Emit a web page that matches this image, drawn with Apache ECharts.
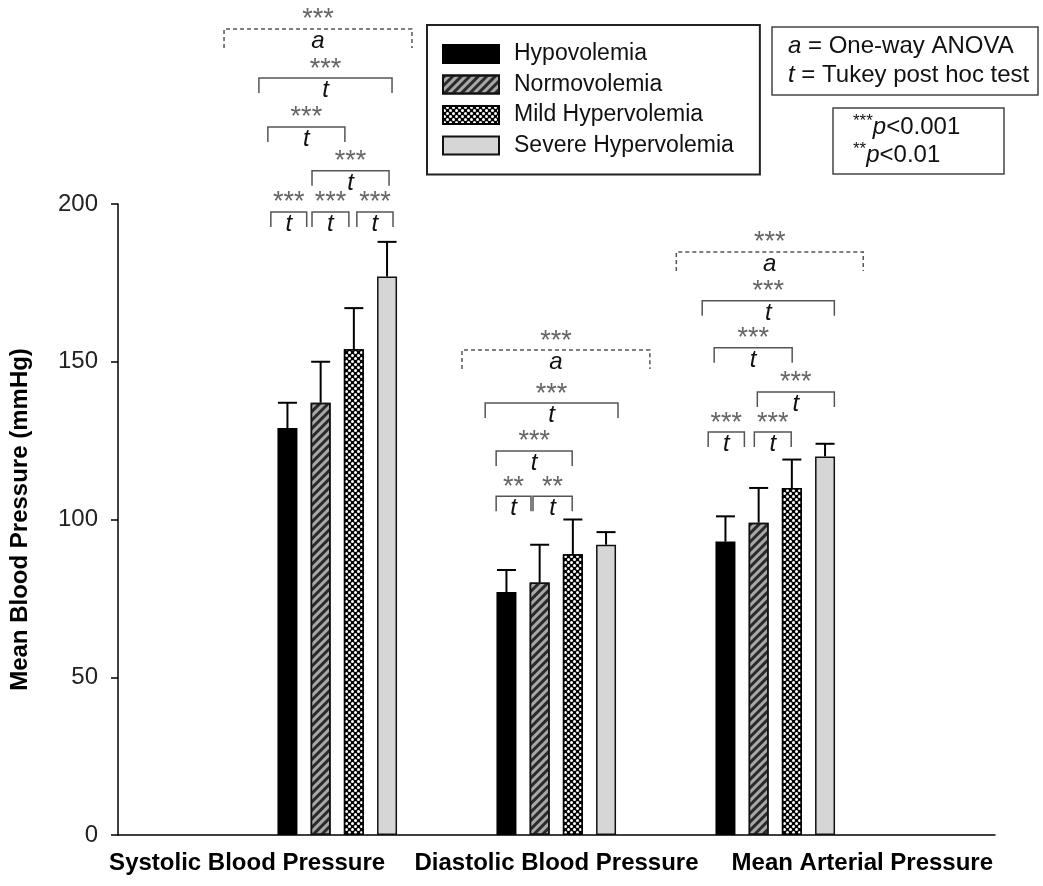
<!DOCTYPE html>
<html>
<head>
<meta charset="utf-8">
<title>Mean Blood Pressure by Volemia Status</title>
<script src="https://cdn.jsdelivr.net/npm/echarts@6/dist/echarts.min.js"></script>
<style>
  html, body { margin: 0; padding: 0; background: #fff; }
  #chart { width: 1043px; height: 886px; }
</style>
</head>
<body>
<div id="chart"></div>
<script>
// Measurement categories and volemia groups
const categories = ['Systolic Blood Pressure', 'Diastolic Blood Pressure', 'Mean Arterial Pressure'];
const groups = ['Hypovolemia', 'Normovolemia', 'Mild Hypervolemia', 'Severe Hypervolemia'];

// Group means (mmHg) per category
const hypoMean = [129, 77, 93];
const normoMean = [137, 80, 99];
const mildMean = [154, 89, 110];
const severeMean = [177, 92, 120];

// Standard deviations (upper error bars)
const hypoSD = [8, 7, 8];
const normoSD = [13, 12, 11];
const mildSD = [13, 11, 9];
const severeSD = [11, 4, 4];

// Value axis ticks
const yMin = 0, yMax = 200, yStep = 50;

// Significance brackets: [category, from, to (in bar slots from group centre), level (mmHg), stars, test]
const brackets = [
  [0, -3.41, 2.25, 255.5, '***', 'a'],
  [0, -2.36, 1.65, 239.9, '***', 't'],
  [0, -2.09, 0.23, 224.4, '***', 't'],
  [0, -0.76, 1.56, 210.5, '***', 't'],
  [0, -2.00, -0.92, 197.5, '***', 't'],
  [0, -0.76, 0.35, 197.5, '***', 't'],
  [0, 0.59, 1.68, 197.5, '***', 't'],
  [1, -2.84, 2.82, 153.7, '***', 'a'],
  [1, -2.14, 1.86, 136.9, '***', 't'],
  [1, -1.81, 0.48, 121.7, '***', 't'],
  [1, -1.81, -0.76, 107.4, '**', 't'],
  [1, -0.70, 0.48, 107.4, '**', 't'],
  [2, -2.98, 2.65, 184.8, '***', 'a'],
  [2, -2.20, 1.78, 169.3, '***', 't'],
  [2, -1.84, 0.51, 154.4, '***', 't'],
  [2, -0.54, 1.78, 140.4, '***', 't'],
  [2, -2.02, -0.93, 127.7, '***', 't'],
  [2, -0.63, 0.48, 127.7, '***', 't']
];

const FONT = '"Liberation Sans", Arial, Helvetica, sans-serif';
const BAR_WIDTH = 20;
const BAR_GAP = 0.66;
const SLOT = BAR_WIDTH * (1 + BAR_GAP);

const means = [hypoMean, normoMean, mildMean, severeMean];
const sds = [hypoSD, normoSD, mildSD, severeSD];

const barStyles = [
  { color: '#000', borderColor: '#000', borderWidth: 1.5 },
  { color: '#a8a8a8', borderColor: '#111', borderWidth: 1.5,
    decal: { symbol: 'rect', symbolSize: 1, dashArrayX: [1, 0], dashArrayY: [2.5, 3], rotation: -Math.PI / 4, color: '#2a2a2a' } },
  { color: '#000', borderColor: '#000', borderWidth: 1.5,
    decal: { symbol: 'circle', symbolSize: 1, dashArrayX: [[3, 2.5], [0, 2.75, 3, 0]], dashArrayY: [3, 0], color: '#fff' } },
  { color: '#d6d6d6', borderColor: '#111', borderWidth: 1.5 }
];

const barSeries = groups.map((name, k) => ({
  name: name,
  type: 'bar',
  xAxisIndex: 1,
  yAxisIndex: 1,
  barWidth: BAR_WIDTH,
  barGap: (BAR_GAP * 100) + '%',
  data: means[k],
  itemStyle: barStyles[k],
  z: 2
}));

// Error bar rows: [category, mean, sd, group index]
const errorRows = [];
groups.forEach((_, k) => {
  categories.forEach((_, g) => errorRows.push([g, means[k][g], sds[k][g], k]));
});

function renderError(params, api) {
  const g = api.value(0), m = api.value(1), sd = api.value(2), k = api.value(3);
  const base = api.coord([g, m]);
  const top = api.coord([g, m + sd]);
  const x = base[0] + (k - 1.5) * SLOT;
  return {
    type: 'group',
    children: [
      { type: 'line', shape: { x1: x, y1: base[1], x2: x, y2: top[1] }, style: { stroke: '#000', lineWidth: 2 } },
      { type: 'line', shape: { x1: x - 9.5, y1: top[1], x2: x + 9.5, y2: top[1] }, style: { stroke: '#000', lineWidth: 2 } }
    ]
  };
}

function renderBracket(params, api) {
  const b = brackets[params.dataIndex];
  const c = api.coord([api.value(0), api.value(1)]);
  const x1 = c[0] + b[1] * SLOT;
  const x2 = c[0] + b[2] * SLOT;
  const y = c[1];
  const anova = b[5] === 'a';
  const leg = anova ? 19 : 15;
  const mid = (x1 + x2) / 2;
  return {
    type: 'group',
    children: [
      { type: 'polyline', shape: { points: [[x1, y + leg], [x1, y], [x2, y], [x2, y + leg]] },
        style: { stroke: '#555', lineWidth: 1.5, fill: null, lineDash: anova ? [4, 3] : null } },
      { type: 'text', style: { text: b[4], x: mid, y: y - 9, align: 'center', verticalAlign: 'middle',
        fill: '#666', font: '27px ' + FONT } },
      { type: 'text', style: { text: b[5], x: mid, y: y + 12, align: 'center', verticalAlign: 'middle',
        fill: '#111', font: 'italic 24px ' + FONT } }
    ]
  };
}

const labelRich = {
  l: { fontSize: 24, fontWeight: 'bold', fontFamily: FONT, color: '#000', padding: [0, 34, 0, 0] },
  c: { fontSize: 24, fontWeight: 'bold', fontFamily: FONT, color: '#000' },
  r: { fontSize: 24, fontWeight: 'bold', fontFamily: FONT, color: '#000', padding: [0, 0, 0, 27] }
};

const chart = echarts.init(document.getElementById('chart'), null, { renderer: 'canvas' });
chart.setOption({
  animation: false,
  backgroundColor: '#fff',
  textStyle: { fontFamily: FONT },
  title: [
    {
      text: '{i|a} = One-way ANOVA\n{i|t} = Tukey post hoc test',
      left: 772, top: 27,
      padding: [5, 9, 5, 16],
      borderColor: '#444', borderWidth: 1.5,
      textStyle: {
        fontSize: 24, fontWeight: 'normal', color: '#111', fontFamily: FONT, lineHeight: 29,
        rich: { i: { fontStyle: 'italic', fontSize: 24, fontFamily: FONT, color: '#111', lineHeight: 29 } }
      }
    },
    {
      text: '{s|***}{i|p}<0.001\n{s|**}{i|p}<0.01',
      left: 833, top: 108,
      padding: [5, 44, 5, 20],
      borderColor: '#444', borderWidth: 1.5,
      textStyle: {
        fontSize: 24, fontWeight: 'normal', color: '#111', fontFamily: FONT, lineHeight: 28,
        rich: {
          i: { fontStyle: 'italic', fontSize: 24, fontFamily: FONT, color: '#111', lineHeight: 28 },
          s: { fontSize: 17, fontFamily: FONT, color: '#111', lineHeight: 28, verticalAlign: 'top' }
        }
      }
    }
  ],
  legend: {
    data: groups,
    orient: 'vertical',
    left: 427, top: 25,
    padding: [17, 26, 17, 15],
    borderColor: '#222', borderWidth: 2,
    icon: 'rect',
    itemWidth: 56, itemHeight: 18, itemGap: 6.5,
    textStyle: { fontSize: 23, color: '#111', fontFamily: FONT, lineHeight: 24, padding: [0, 0, 0, 10] }
  },
  grid: [
    { left: 117, right: 48, top: 204, bottom: 51 },
    { left: 227.75, right: 158.25, top: 204, bottom: 51 }
  ],
  xAxis: [
    {
      type: 'category', gridIndex: 0, data: categories,
      axisLine: { show: true, lineStyle: { color: '#000', width: 1.5 } },
      axisTick: { show: false },
      axisLabel: {
        margin: 16, fontSize: 24, fontWeight: 'bold', color: '#000', interval: 0,
        formatter: (v, i) => (i === 0 ? '{l|' : i === 2 ? '{r|' : '{c|') + v + '}',
        rich: labelRich
      },
      splitLine: { show: false }
    },
    {
      type: 'category', gridIndex: 1, data: categories,
      axisLine: { show: false }, axisTick: { show: false }, axisLabel: { show: false }, splitLine: { show: false }
    }
  ],
  yAxis: [
    {
      type: 'value', gridIndex: 0, min: yMin, max: yMax, interval: yStep,
      name: 'Mean Blood Pressure (mmHg)', nameLocation: 'middle', nameGap: 86,
      nameTextStyle: { fontSize: 24, fontWeight: 'bold', color: '#000', fontFamily: FONT },
      axisLine: { show: true, lineStyle: { color: '#000', width: 1.5 } },
      axisTick: { show: true, inside: false, length: 7, lineStyle: { color: '#000', width: 1.5 } },
      axisLabel: { fontSize: 24, color: '#222', margin: 20 },
      splitLine: { show: false }
    },
    {
      type: 'value', gridIndex: 1, min: yMin, max: yMax, interval: yStep, show: false,
      splitLine: { show: false }
    }
  ],
  series: barSeries.concat([
    {
      type: 'custom', name: 'errors', xAxisIndex: 1, yAxisIndex: 1,
      renderItem: renderError, data: errorRows, z: 3, clip: false, silent: true
    },
    {
      type: 'custom', name: 'significance', xAxisIndex: 1, yAxisIndex: 1,
      renderItem: renderBracket, data: brackets.map(b => [b[0], b[3]]), z: 4, clip: false, silent: true
    }
  ])
});
</script>
</body>
</html>
